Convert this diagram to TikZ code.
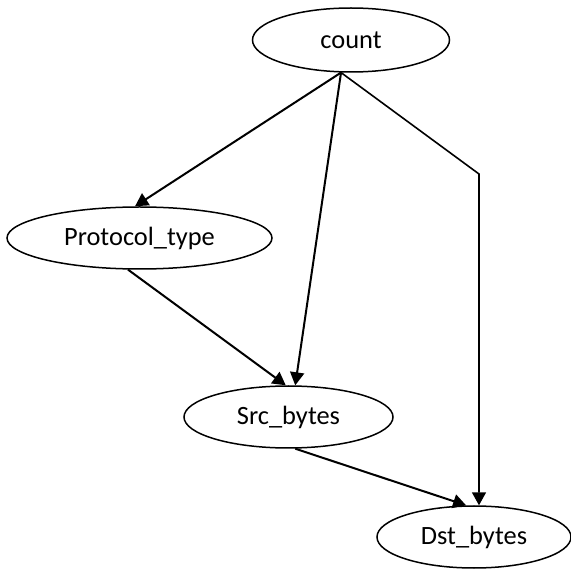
\documentclass[tikz,border=0pt]{standalone}
\usepackage{fontspec}
\setmainfont{Carlito}
\usepackage{tikz}
\usetikzlibrary{shapes.geometric,arrows.meta}

\begin{document}
\begin{tikzpicture}[x=1pt,y=-1pt,
  var/.style={draw,ellipse,line width=1.5pt,inner sep=0pt,font=\fontsize{26.4}{30}\selectfont},
  dep/.style={line width=2pt,-{Triangle[length=13pt,width=14pt]}}]
\useasboundingbox (0,0) rectangle (571,569);
% variables
\node[var,minimum width=197,minimum height=64] (count) at (351,40) {count};
\node[var,minimum width=265,minimum height=62] (proto) at (139.5,238) {Protocol\_type};
\node[var,minimum width=209,minimum height=62] (src) at (288.5,417) {Src\_bytes};
\node[var,minimum width=194,minimum height=62] (dst) at (474,537) {Dst\_bytes};
% dependencies
\coordinate (fork) at (count.253);
\coordinate (bend) at (479,174);
\draw[dep] (fork) -- (proto.98);
\draw[dep] (fork) -- (src.78);
\draw[dep,line width=1.6pt] (fork) -- (bend) -- (bend |- dst.79);
\draw[dep] (proto.250) -- (src.95);
\draw[dep] (src.282) -- (dst.104);
\end{tikzpicture}
\end{document}
